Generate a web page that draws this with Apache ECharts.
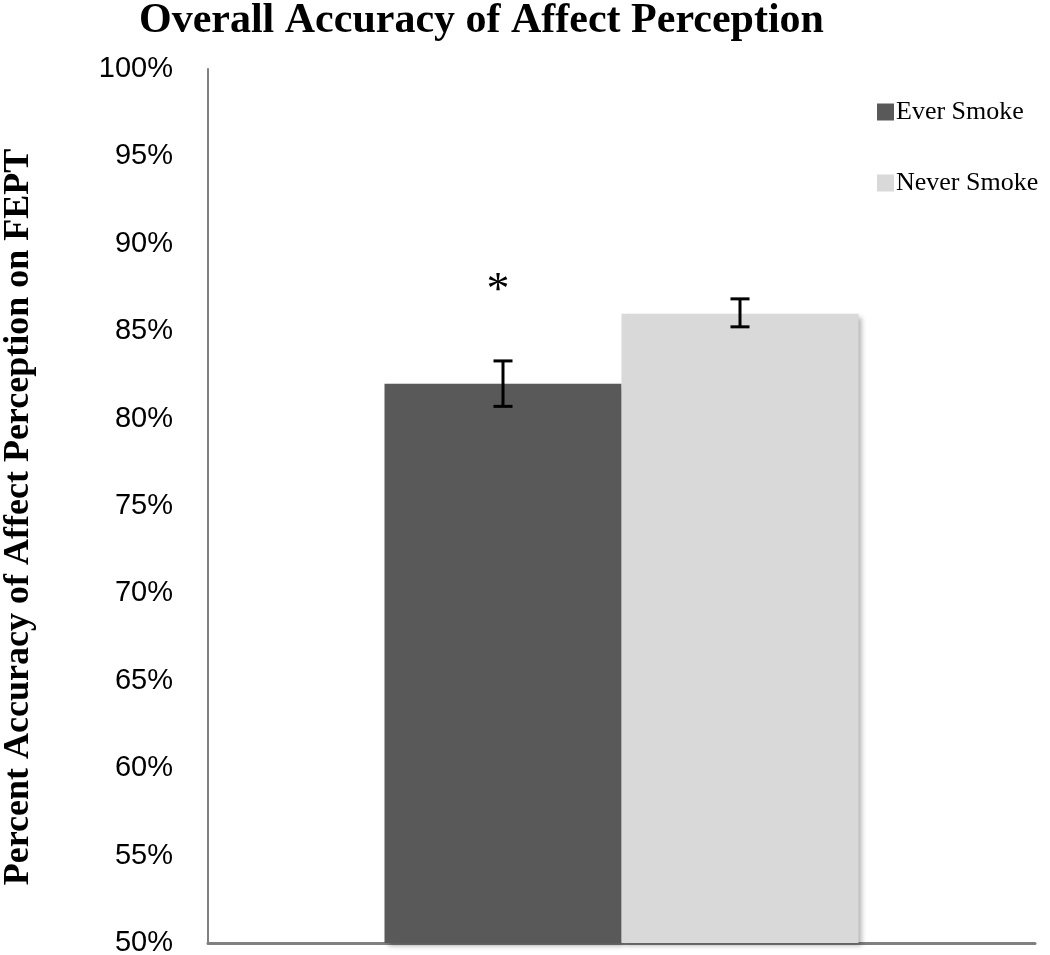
<!DOCTYPE html>
<html>
<head>
<meta charset="utf-8">
<script src="https://cdn.jsdelivr.net/npm/echarts@6/dist/echarts.min.js"></script>
<style>
  html, body { margin: 0; padding: 0; background: #fff; }
  #main { width: 1050px; height: 955px; }
</style>
</head>
<body>
<div id="main"></div>
<script>
// data
var categories = ['Overall'];
var seriesNames = ['Ever Smoke', 'Never Smoke'];
var meanValues = [82.0, 86.0];
var errLow = [80.7, 85.25];
var errHigh = [83.3, 86.85];
var starValue = [87.7];
var yTicks = [50, 55, 60, 65, 70, 75, 80, 85, 90, 95, 100];

var myChart = echarts.init(document.getElementById('main'));
var barColors = ['#595959', '#d9d9d9'];
var barWidth = 237;

function errorBars(idx) {
  var offset = (idx === 0 ? -1 : 1) * barWidth / 2;
  return {
    type: 'custom',
    name: seriesNames[idx] + ' err',
    z: 10,
    silent: true,
    data: [[0, errLow[idx], errHigh[idx]]],
    renderItem: function (params, api) {
      var lo = api.coord([api.value(0), api.value(1)]);
      var hi = api.coord([api.value(0), api.value(2)]);
      var x = lo[0] + offset;
      var cap = 9.5;
      var st = { stroke: '#000', lineWidth: 3 };
      return {
        type: 'group',
        children: [
          { type: 'line', shape: { x1: x, y1: lo[1], x2: x, y2: hi[1] }, style: st },
          { type: 'line', shape: { x1: x - cap, y1: lo[1], x2: x + cap, y2: lo[1] }, style: st },
          { type: 'line', shape: { x1: x - cap, y1: hi[1], x2: x + cap, y2: hi[1] }, style: st }
        ]
      };
    }
  };
}

var option = {
  animation: false,
  title: {
    text: 'Overall Accuracy of Affect Perception',
    left: 139,
    top: 0,
    padding: 0,
    textStyle: {
      fontFamily: 'Liberation Serif',
      fontWeight: 'bold',
      fontSize: 42,
      color: '#000'
    }
  },
  legend: {
    orient: 'vertical',
    left: 872,
    top: 94,
    itemWidth: 17,
    itemHeight: 17,
    itemGap: 45,
    icon: 'rect',
    data: seriesNames,
    textStyle: {
      fontFamily: 'Liberation Serif',
      fontSize: 26,
      color: '#000',
      padding: [0, 0, 0, -3]
    }
  },
  grid: {
    left: 208,
    right: 15,
    top: 69,
    bottom: 12,
    outerBoundsMode: 'none',
    containLabel: false
  },
  xAxis: {
    type: 'category',
    data: categories,
    axisLine: { lineStyle: { color: '#808080', width: 3 } },
    axisTick: { show: false },
    axisLabel: { show: false }
  },
  yAxis: {
    type: 'value',
    min: yTicks[0],
    max: yTicks[yTicks.length - 1],
    interval: 5,
    name: 'Percent Accuracy of Affect Perception on FEPT',
    nameLocation: 'middle',
    nameGap: 171,
    nameTextStyle: {
      fontFamily: 'Liberation Serif',
      fontWeight: 'bold',
      fontSize: 36,
      color: '#000',
      padding: [0, 22, 0, 0]
    },
    axisLine: { show: true, lineStyle: { color: '#808080', width: 2 } },
    axisTick: { show: false },
    splitLine: { show: false },
    axisLabel: {
      margin: 35,
      fontFamily: 'Liberation Sans',
      fontSize: 29,
      color: '#000',
      formatter: '{value}%'
    }
  },
  series: [
    {
      name: seriesNames[0],
      type: 'bar',
      barWidth: barWidth,
      barGap: '0%',
      data: [meanValues[0]],
      itemStyle: {
        color: barColors[0],
        shadowColor: 'rgba(0,0,0,0.35)',
        shadowBlur: 5,
        shadowOffsetX: 3,
        shadowOffsetY: 3
      }
    },
    {
      name: seriesNames[1],
      type: 'bar',
      barWidth: barWidth,
      barGap: '0%',
      data: [meanValues[1]],
      itemStyle: {
        color: barColors[1],
        shadowColor: 'rgba(0,0,0,0.3)',
        shadowBlur: 5,
        shadowOffsetX: 3,
        shadowOffsetY: 3
      }
    },
    errorBars(0),
    errorBars(1),
    {
      type: 'custom',
      name: 'sig',
      z: 10,
      silent: true,
      data: [[0, starValue[0]]],
      renderItem: function (params, api) {
        var p = api.coord([api.value(0), api.value(1)]);
        return {
          type: 'text',
          style: {
            text: '*',
            x: p[0] - barWidth / 2 - 5,
            y: p[1] + 8,
            align: 'center',
            verticalAlign: 'middle',
            fontFamily: 'Liberation Serif',
            fontSize: 46,
            fill: '#000'
          }
        };
      }
    }
  ]
};
myChart.setOption(option);
</script>
</body>
</html>
